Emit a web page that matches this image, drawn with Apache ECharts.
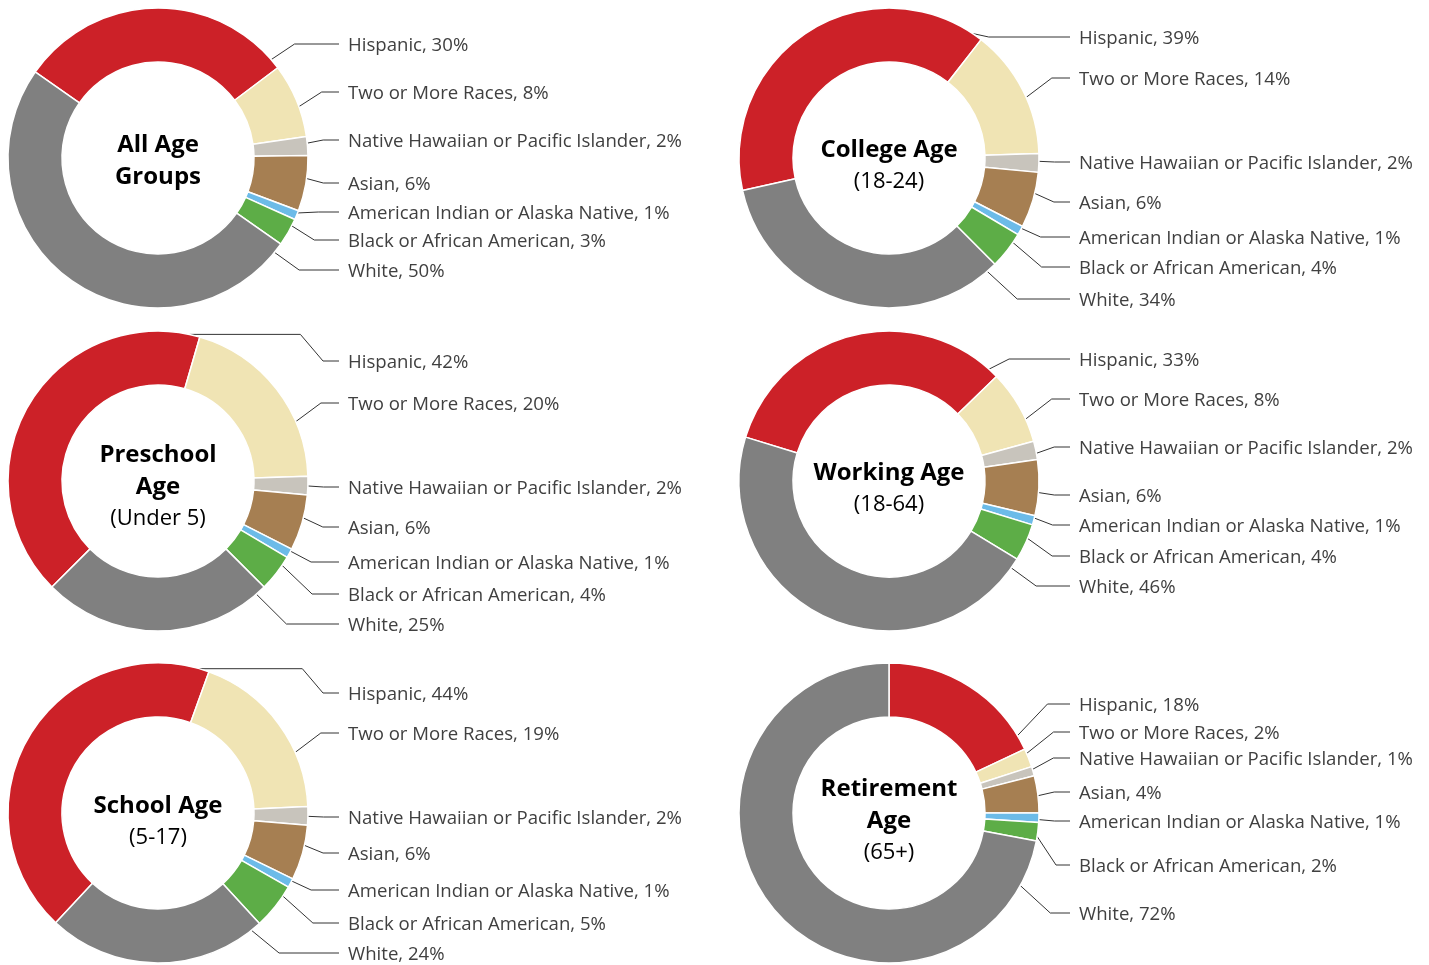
<!DOCTYPE html>
<html lang="en">
<head>
    <meta charset="UTF-8">
    <meta name="viewport" content="width=device-width, initial-scale=1.0">
    <script type="text/javascript" src="https://cdn.jsdelivr.net/npm/echarts@6/dist/echarts.min.js"></script>
    <title>Population by race and age group</title>
    <style type="text/css">
        html, body { margin: 0; padding: 0; background: #fff; }
        #donuts { width: 1429px; height: 965px; }
    </style>
</head>
<body>
    <div id="donuts"></div>
    <script type="text/javascript">
        // categories, same order in every ring (clockwise)
        let categories = ['Hispanic', 'Two or More Races', 'Native Hawaiian or Pacific Islander', 'Asian',
            'American Indian or Alaska Native', 'Black or African American', 'White']

        // percent values per age group
        let allAges = [30, 8, 2, 6, 1, 3, 50]
        let collegeAge = [39, 14, 2, 6, 1, 4, 34]
        let preschoolAge = [42, 20, 2, 6, 1, 4, 25]
        let workingAge = [33, 8, 2, 6, 1, 4, 46]
        let schoolAge = [44, 19, 2, 6, 1, 5, 24]
        let retirementAge = [18, 2, 1, 4, 1, 2, 72]

        let groups = [allAges, collegeAge, preschoolAge, workingAge, schoolAge, retirementAge]
        let titles = [['All Age', 'Groups'], ['College Age'], ['Preschool', 'Age'], ['Working Age'], ['School Age'], ['Retirement', 'Age']]
        let subtitles = ['', '(18-24)', '(Under 5)', '(18-64)', '(5-17)', '(65+)']

        let colors = ['#cc2128', '#f0e4b4', '#c8c4bc', '#a67f52', '#6cbbe8', '#5dad47', '#808080']

        // layout: ring centres, rotation and where the label column sits
        let centers = [[158, 158], [889, 158], [158, 481], [889, 481], [158, 813], [889, 813]]
        let startAngles = [145, 192.5, 225, 163, 227, 90]
        let titleShift = [3, 8, 6, 8, 9, 8]
        let labelX = [348, 1079]
        let labelYs = [
            [44, 92, 140, 183, 212, 240, 270],
            [37, 78, 162, 202, 237, 267, 299],
            [361, 403, 487, 527, 562, 594, 624],
            [359, 399, 447, 495, 525, 556, 586],
            [693, 733, 817, 853, 890, 923, 953],
            [704, 732, 758, 792, 821, 865, 913]
        ]
        let R_IN = 96
        let R_OUT = 150

        // leader line: from the slice edge nearest the label, elbow, then flat into the label
        function leaderPoints(si, di) {
            let vals = groups[si]
            let total = vals.reduce((a, b) => a + b, 0)
            let before = 0
            for (let j = 0; j < di; j++) before += vals[j]
            let top0 = 90 - startAngles[si]
            let a0 = top0 + before / total * 360
            let a1 = a0 + vals[di] / total * 360
            let cx = centers[si][0], cy = centers[si][1]
            let ex = labelX[si % 2] - 9
            let ey = labelYs[si][di]
            let t = Math.atan2(ex - cx, cy - ey) * 180 / Math.PI
            let mid = (a0 + a1) / 2
            while (t < mid - 180) t += 360
            while (t > mid + 180) t -= 360
            let m = Math.min(4, (a1 - a0) / 4)
            t = Math.max(a0 + m, Math.min(a1 - m, t))
            let r = t * Math.PI / 180
            let ax = cx + R_OUT * Math.sin(r)
            let ay = cy - R_OUT * Math.cos(r)
            let dy = ey - ay
            if (Math.abs(dy) < 3) {
                return [[ax, ay], [(ax + ex) / 2, ey], [ex, ey]]
            }
            let dx = Math.min(30, 14 + 0.6 * Math.abs(dy))
            let facing = (Math.sin(r) * dx - Math.cos(r) * dy) / Math.hypot(dx, dy)
            if (facing < 0.2) {
                let bx = ex - 16
                let h = 0.85 * Math.abs(dy)
                return [[ax, ay], [bx - h, ay], [bx, ey], [ex, ey]]
            }
            let bx = Math.min(ax + dx, ex - 14)
            return [[ax, ay], [bx, ey], [ex, ey]]
        }

        function render() {
            var chartDom = document.getElementById('donuts')
            var myChart = echarts.init(chartDom)

            let series = groups.map((vals, si) => ({
                type: 'pie',
                center: centers[si],
                radius: [R_IN, R_OUT],
                startAngle: startAngles[si],
                clockwise: true,
                avoidLabelOverlap: false,
                silent: true,
                animation: false,
                itemStyle: { borderColor: '#ffffff', borderWidth: 1.5 },
                label: {
                    show: true,
                    formatter: '{b}, {c}%',
                    fontFamily: 'Open Sans',
                    fontSize: 18.6,
                    color: '#404040',
                    overflow: 'none'
                },
                labelLine: {
                    show: true,
                    smooth: false,
                    lineStyle: { color: '#333333', width: 1 }
                },
                labelLayout: function (params) {
                    return {
                        x: labelX[params.seriesIndex % 2],
                        y: labelYs[params.seriesIndex][params.dataIndex] + 1.5,
                        align: 'left',
                        verticalAlign: 'middle',
                        width: 420,
                        labelLinePoints: leaderPoints(params.seriesIndex, params.dataIndex)
                    }
                },
                data: vals.map((v, i) => ({ name: categories[i], value: v, itemStyle: { color: colors[i] } }))
            }))

            let graphic = titles.map((lines, i) => {
                let parts = lines.map((l) => '{b|' + l + '}')
                if (subtitles[i]) parts.push('{n|' + subtitles[i] + '}')
                return {
                    type: 'text',
                    x: centers[i][0],
                    y: centers[i][1] + titleShift[i],
                    silent: true,
                    style: {
                        text: parts.join('\n'),
                        align: 'center',
                        verticalAlign: 'middle',
                        rich: {
                            b: { fontFamily: 'Open Sans', fontWeight: 'bold', fontSize: 24, color: '#111111', lineHeight: 32, align: 'center' },
                            n: { fontFamily: 'Open Sans', fontSize: 22, color: '#333333', lineHeight: 32, align: 'center' }
                        }
                    }
                }
            })

            var option = {
                animation: false,
                series: series,
                graphic: graphic
            }

            option && myChart.setOption(option)
        }

        render()
    </script>
</body>
</html>
